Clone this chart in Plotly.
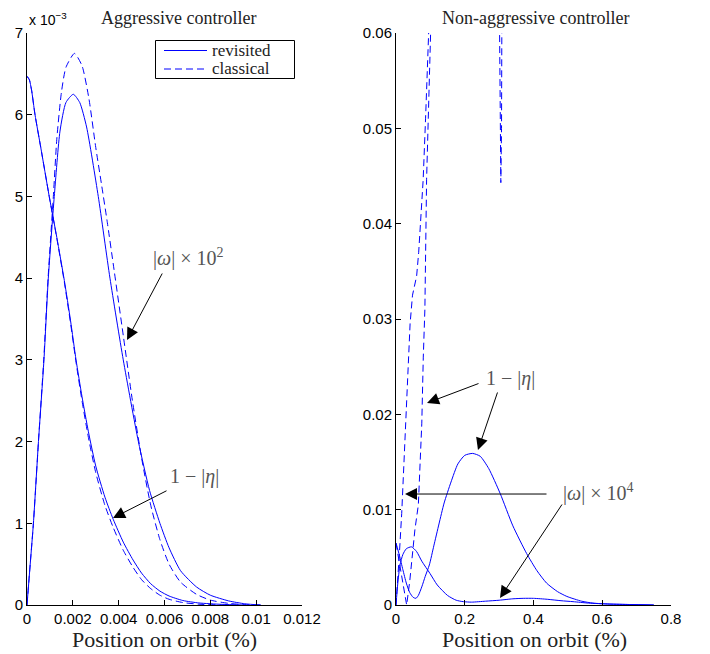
import plotly.graph_objects as go

# ---------------- Left panel: aggressive controller (y in units of 1e-3) ----------------
agg_eta_rev_x = [0, 0.0001, 0.0002, 0.00035, 0.0006, 0.00097, 0.0013, 0.00163, 0.0019, 0.00214,
                 0.0024, 0.00268, 0.003, 0.0034, 0.00376, 0.0042, 0.00463, 0.005, 0.0054, 0.0058,
                 0.0062, 0.0068, 0.0075, 0.0085, 0.0095]
agg_eta_rev_y = [6.47, 6.43, 6.3, 6.0, 5.6, 5.0, 4.5, 3.97, 3.48, 3.0,
                 2.55, 2.12, 1.7, 1.32, 1.05, 0.77, 0.55, 0.39, 0.26, 0.17,
                 0.11, 0.055, 0.025, 0.008, 0.0]

agg_eta_cla_x = [0, 0.0001, 0.0002, 0.00035, 0.0006, 0.00097, 0.0013, 0.00163, 0.0019, 0.00214,
                 0.0024, 0.00268, 0.003, 0.0034, 0.00376, 0.0042, 0.00463, 0.005, 0.0054, 0.0058,
                 0.0062, 0.0068, 0.0075, 0.0085]
agg_eta_cla_y = [6.47, 6.43, 6.3, 6.0, 5.6, 5.0, 4.49, 3.95, 3.45, 2.97,
                 2.5, 2.05, 1.62, 1.22, 0.95, 0.67, 0.46, 0.31, 0.2, 0.12,
                 0.07, 0.03, 0.01, 0.0]

agg_om_rev_x = [0, 0.00014, 0.00028, 0.0005, 0.00074, 0.00093, 0.00119, 0.00144, 0.0017, 0.00202,
                0.0023, 0.0026, 0.00311, 0.00362, 0.0042, 0.00486, 0.00535, 0.0058, 0.0062, 0.0067,
                0.0074, 0.008, 0.0088, 0.0095, 0.0102]
agg_om_rev_y = [0.0, 0.5, 1.0, 2.0, 3.0, 4.0, 5.0, 5.8, 6.15, 6.25,
                6.15, 5.85, 5.0, 4.0, 3.0, 2.0, 1.4, 1.0, 0.7, 0.42,
                0.22, 0.12, 0.05, 0.015, 0.0]

agg_om_cla_x = [0, 0.00014, 0.00028, 0.0005, 0.00073, 0.00092, 0.00115, 0.0013, 0.0015, 0.0017,
                0.00207, 0.0024, 0.0027, 0.003, 0.00325, 0.00349, 0.0038, 0.0042, 0.0046, 0.005,
                0.0054, 0.0058, 0.0062, 0.0067, 0.0074, 0.008, 0.0088, 0.0095, 0.0102]
agg_om_cla_y = [0.0, 0.5, 1.0, 2.0, 3.0, 4.0, 5.0, 5.7, 6.27, 6.58,
                6.75, 6.6, 6.2, 5.6, 5.15, 4.71, 4.1, 3.3, 2.5, 1.8,
                1.22, 0.8, 0.5, 0.28, 0.13, 0.06, 0.02, 0.005, 0.0]

# ---------------- Right panel: non-aggressive controller ----------------
non_eta_rev_x = [0, 0.01, 0.02, 0.03, 0.04, 0.05, 0.058, 0.065, 0.075, 0.085, 0.097, 0.11, 0.125,
                 0.14, 0.16, 0.18, 0.2, 0.223, 0.245, 0.27, 0.303, 0.34, 0.38, 0.41, 0.438,
                 0.47, 0.497, 0.54, 0.573, 0.62, 0.68, 0.75]
non_eta_rev_y = [0.0065, 0.0052, 0.0037, 0.0023, 0.0013, 0.0008, 0.0007, 0.001, 0.0019, 0.003,
                 0.0042, 0.0062, 0.0085, 0.0107, 0.0129, 0.0148, 0.0157, 0.0159, 0.0156, 0.0143,
                 0.0117, 0.0083, 0.0054, 0.0036, 0.0023, 0.0014, 0.0009, 0.0004, 0.0002, 0.0001,
                 0.00005, 0.0]

non_om_rev_x = [0, 0.005, 0.0116, 0.02, 0.03, 0.045, 0.06, 0.075, 0.099, 0.12, 0.15, 0.175, 0.196,
                0.22, 0.26, 0.3, 0.34, 0.37, 0.4, 0.44, 0.48, 0.515, 0.56, 0.62, 0.68, 0.75]
non_om_rev_y = [0.0, 0.0022, 0.0042, 0.0053, 0.0059, 0.0061, 0.0056, 0.0046, 0.0033, 0.0021,
                0.001, 0.0005, 0.00035, 0.0003, 0.0004, 0.0005, 0.00065, 0.0007, 0.0007, 0.0006,
                0.00045, 0.00035, 0.0002, 0.0001, 0.00005, 0.0]

non_eta_cla_x = [0, 0.01, 0.02, 0.031, 0.04, 0.048, 0.055, 0.065, 0.07, 0.075, 0.0794, 0.084,
                 0.089, 0.095, 0.101, 0.106]
non_eta_cla_y = [0.0065, 0.0045, 0.0022, 0.0, 0.0025, 0.0055, 0.0079, 0.0105, 0.014, 0.019,
                 0.026, 0.031, 0.0446, 0.053, 0.06, 0.067]

non_om_cla_x = [0, 0.005, 0.01, 0.0166, 0.021, 0.026, 0.031, 0.036, 0.041, 0.048, 0.055, 0.06,
                0.066, 0.072, 0.079, 0.086, 0.092, 0.098, 0.11, 0.2, 0.2995, 0.302, 0.305, 0.307,
                0.309, 0.32]
non_om_cla_y = [0.0, 0.0025, 0.0055, 0.0096, 0.0135, 0.0178, 0.022, 0.026, 0.0295, 0.0325,
                0.0337, 0.0345, 0.037, 0.0405, 0.0446, 0.051, 0.056, 0.061, 0.075, 0.5, 0.065,
                0.05, 0.0443, 0.05, 0.062, 0.2]

left_xticks = [0, 0.002, 0.004, 0.006, 0.008, 0.01, 0.012]
left_xlabels = ["0", "0.002", "0.004", "0.006", "0.008", "0.01", "0.012"]
left_yticks = [0, 1, 2, 3, 4, 5, 6, 7]
right_xticks = [0, 0.2, 0.4, 0.6, 0.8]
right_xlabels = ["0", "0.2", "0.4", "0.6", "0.8"]
right_yticks = [0, 0.01, 0.02, 0.03, 0.04, 0.05, 0.06]
right_ylabels = ["0", "0.01", "0.02", "0.03", "0.04", "0.05", "0.06"]
legend_names = ["revisited", "classical"]

BLUE = "#0000ff"
SERIF = "Liberation Serif"
SANS = "Liberation Sans"
DASH = "7px,4px"

# page body has an 8px margin: figure is placed at (8, 8) of the 710x654 window
OFF = 8
W, H = 710 - OFF, 654 - OFF

def px(v):  # window pixel x -> paper x
    return (v - OFF) / W

def py(v):  # window pixel y -> paper y
    return 1 - (v - OFF) / H

fig = go.Figure()

def add(x, y, dashed, xa, ya, name=None, spline=True):
    fig.add_trace(go.Scatter(
        x=x, y=y, mode="lines", xaxis=xa, yaxis=ya,
        line=dict(color=BLUE, width=1, dash=DASH if dashed else "solid",
                  shape="spline" if spline else "linear", smoothing=0.6),
        name=name, showlegend=False, hoverinfo="skip"))

add(agg_eta_rev_x, agg_eta_rev_y, False, "x", "y", legend_names[0])
add(agg_om_rev_x, agg_om_rev_y, False, "x", "y", legend_names[0])
add(agg_eta_cla_x, agg_eta_cla_y, True, "x", "y", legend_names[1])
add(agg_om_cla_x, agg_om_cla_y, True, "x", "y", legend_names[1])

add(non_eta_rev_x, non_eta_rev_y, False, "x2", "y2", legend_names[0])
add(non_om_rev_x, non_om_rev_y, False, "x2", "y2", legend_names[0])
add(non_eta_cla_x, non_eta_cla_y, True, "x2", "y2", legend_names[1], spline=False)
add(non_om_cla_x, non_om_cla_y, True, "x2", "y2", legend_names[1], spline=False)

ydom = [py(605), py(33)]
axis_common = dict(showgrid=False, zeroline=False, showline=True, linecolor="black", linewidth=1,
                   ticks="inside", ticklen=5, tickcolor="black", tickwidth=1, mirror=False,
                   automargin=False,
                   tickfont=dict(family=SANS, size=15, color="black"))

fig.update_layout(
    width=W, height=H, margin=dict(l=0, r=0, t=0, b=0, autoexpand=False),
    plot_bgcolor="white", paper_bgcolor="white",
    xaxis=dict(domain=[px(27), px(302)], range=[0, 0.012], tickvals=left_xticks, ticktext=left_xlabels,
               anchor="y", **axis_common),
    yaxis=dict(domain=ydom, range=[0, 7], tickvals=left_yticks, anchor="x", **axis_common),
    xaxis2=dict(domain=[px(396), px(671)], range=[0, 0.8], tickvals=right_xticks, ticktext=right_xlabels,
                anchor="y2", **axis_common),
    yaxis2=dict(domain=ydom, range=[0, 0.06], tickvals=right_yticks, ticktext=right_ylabels,
                anchor="x2", **axis_common),
    showlegend=False,
)

anns = []
shapes = []
TITLE_FONT = dict(family=SERIF, size=18, color="#222")
anns.append(dict(text="Aggressive controller", x=px(178), y=py(18), xref="paper", yref="paper",
                 xanchor="center", yanchor="middle", showarrow=False, font=TITLE_FONT))
anns.append(dict(text="Non-aggressive controller", x=px(535), y=py(18), xref="paper", yref="paper",
                 xanchor="center", yanchor="middle", showarrow=False, font=TITLE_FONT))
XT_FONT = dict(family=SERIF, size=22, color="#222")
anns.append(dict(text="Position on orbit (%)", x=px(164), y=py(639), xref="paper", yref="paper",
                 xanchor="center", yanchor="middle", showarrow=False, font=XT_FONT))
anns.append(dict(text="Position on orbit (%)", x=px(534), y=py(639), xref="paper", yref="paper",
                 xanchor="center", yanchor="middle", showarrow=False, font=XT_FONT))
anns.append(dict(text="x 10<sup>\u22123</sup>", x=px(27), y=py(19), xref="paper", yref="paper",
                 xanchor="left", yanchor="middle", showarrow=False,
                 font=dict(family=SANS, size=14, color="black")))

# legend box (drawn to match the reference's compact MATLAB legend)
LEG_FONT = dict(family=SERIF, size=17, color="#222")
shapes.append(dict(type="rect", xref="paper", yref="paper", x0=px(155.5), x1=px(294.5),
                   y0=py(78.5), y1=py(40.5), line=dict(color="black", width=1), fillcolor="white"))
for i, (nm, dashed) in enumerate(zip(legend_names, [False, True])):
    yy = 50.5 + 18.5 * i
    shapes.append(dict(type="line", xref="paper", yref="paper", x0=px(164), x1=px(207), y0=py(yy), y1=py(yy),
                       line=dict(color=BLUE, width=1, dash=DASH if dashed else "solid")))
    anns.append(dict(text=nm, x=px(210), y=py(yy), xref="paper", yref="paper", xanchor="left",
                     yanchor="middle", showarrow=False, font=LEG_FONT))

LABEL_FONT = dict(family=SERIF, size=20, color="#555")
om2 = "|<i>\u03c9</i>| \u00d7 10<sup>2</sup>"
om4 = "|<i>\u03c9</i>| \u00d7 10<sup>4</sup>"
eta = "1 \u2212 |<i>\u03b7</i>|"

anns.append(dict(text=om2, x=0.007025, y=4.25, xref="x", yref="y", xanchor="center", yanchor="middle",
                 showarrow=False, font=LABEL_FONT))
anns.append(dict(text=eta, x=0.00733, y=1.57, xref="x", yref="y", xanchor="center", yanchor="middle",
                 showarrow=False, font=LABEL_FONT))
anns.append(dict(text=eta, x=0.3345, y=0.0238, xref="x2", yref="y2", xanchor="center", yanchor="middle",
                 showarrow=False, font=LABEL_FONT))
anns.append(dict(text=om4, x=0.5876, y=0.0118, xref="x2", yref="y2", xanchor="center", yanchor="middle",
                 showarrow=False, font=LABEL_FONT))

def arrow(tail, tip, xr, yr):
    anns.append(dict(text="", x=tip[0], y=tip[1], ax=tail[0], ay=tail[1], xref=xr, yref=yr,
                     axref=xr, ayref=yr, showarrow=True, arrowhead=2, arrowsize=2.4, arrowwidth=1,
                     arrowcolor="black", standoff=0, startstandoff=0))

arrow((0.005935, 4.075), (0.004364, 3.243), "x", "y")
arrow((0.006153, 1.407), (0.003753, 1.065), "x", "y")
arrow((0.2444, 0.02329), (0.0902, 0.02119), "x2", "y2")
arrow((0.2967, 0.02245), (0.2385, 0.01626), "x2", "y2")
arrow((0.4422, 0.01164), (0.0262, 0.01164), "x2", "y2")
arrow((0.4858, 0.0107), (0.3025, 0.000734), "x2", "y2")

fig.update_layout(annotations=anns, shapes=shapes)
fig.write_html("out.html")
